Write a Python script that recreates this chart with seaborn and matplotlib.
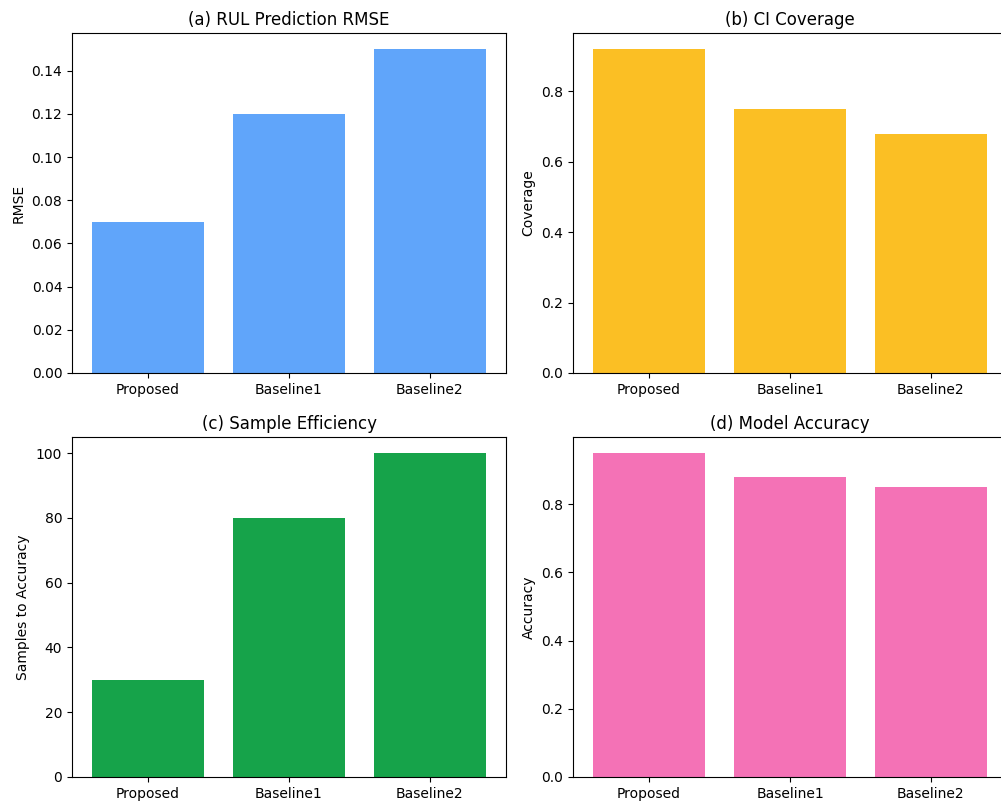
import matplotlib
matplotlib.use("Agg")
import matplotlib.pyplot as plt
import seaborn as sns
import pandas as pd

methods = ["Proposed", "Baseline1", "Baseline2"]
rmse = [0.07, 0.12, 0.15]
coverage = [0.92, 0.75, 0.68]
samples = [30, 80, 100]
accuracy = [0.95, 0.88, 0.85]

panels = [
    ("(a) RUL Prediction RMSE", "RMSE", rmse, "#60A5FA"),
    ("(b) CI Coverage", "Coverage", coverage, "#FBBF24"),
    ("(c) Sample Efficiency", "Samples to Accuracy", samples, "#16A34A"),
    ("(d) Model Accuracy", "Accuracy", accuracy, "#F472B6"),
]

plt.rcdefaults()
plt.rcParams["font.family"] = ["DejaVu Sans"]

W, H = 1001, 801
fig = plt.figure(figsize=(W / 100, H / 100), dpi=100)

# panel boxes in pixel units: (left, top, width, height)
boxes = [(72, 33, 434, 340), (573, 33, 434, 340),
         (72, 437, 434, 340), (573, 437, 434, 340)]

for (title, ylabel, vals, color), (l, t, w, h) in zip(panels, boxes):
    ax = fig.add_axes([l / W, (H - t - h) / H, w / W, h / H])
    df = pd.DataFrame({"Method": methods, "Value": vals})
    sns.barplot(data=df, x="Method", y="Value", color=color, saturation=1,
                width=0.8, linewidth=0, ax=ax)
    ax.set_xlim(-0.54, 2.54)
    ax.set_ylim(0, max(vals) * 1.05)
    ax.set_title(title, fontsize=12)
    ax.set_xlabel("")
    ax.set_ylabel(ylabel, fontsize=10)
    ax.tick_params(labelsize=10)
    for s in ax.spines.values():
        s.set_visible(True)

fig.savefig("out.png", dpi=100)
